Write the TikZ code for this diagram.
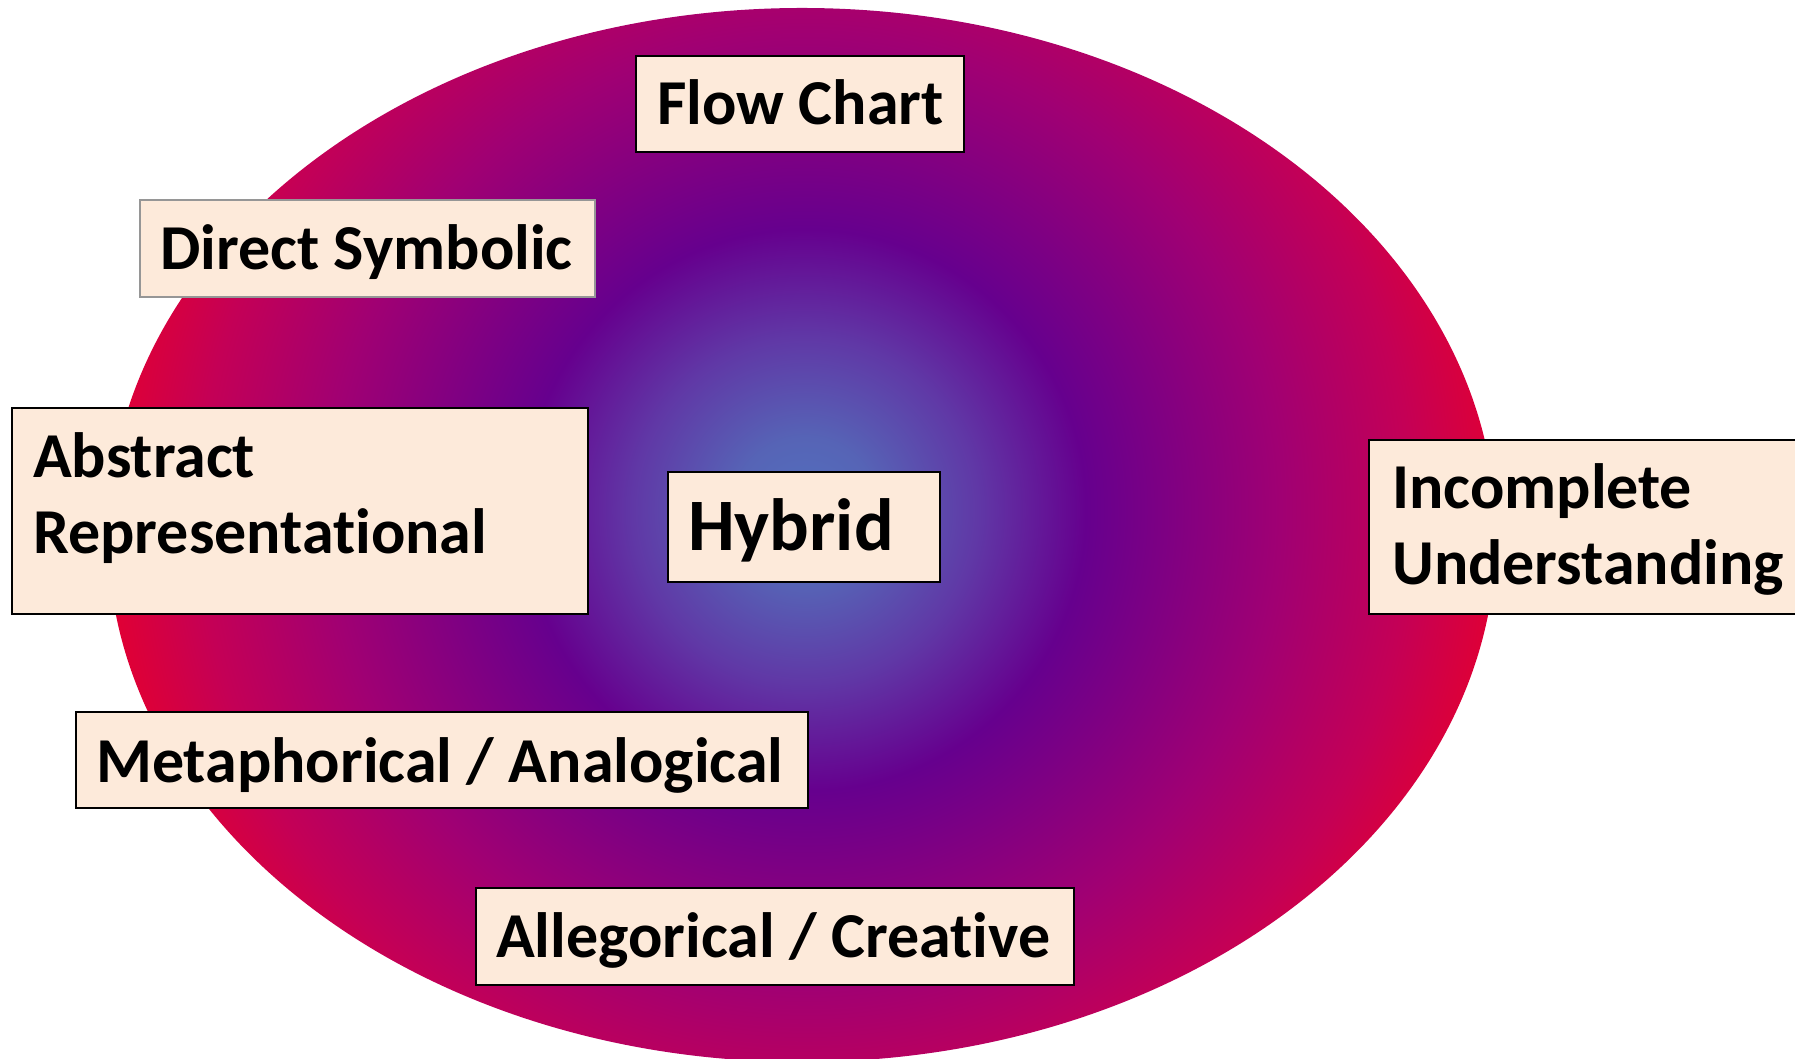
\documentclass[tikz,border=0pt]{standalone}
\usepackage{fontspec}
\setmainfont{Carlito}[Ligatures=NoCommon]
\definecolor{boxfill}{RGB}{253,234,218}
\definecolor{dsborder}{RGB}{150,150,150}
\definecolor{g0}{RGB}{82,112,190}
\definecolor{g1}{RGB}{86,100,182}
\definecolor{g2}{RGB}{96,56,166}
\definecolor{g3}{RGB}{102,0,142}
\definecolor{g4}{RGB}{160,0,115}
\definecolor{g5}{RGB}{196,0,86}
\definecolor{g6}{RGB}{226,0,50}
\pgfdeclareradialshading{blob}{\pgfpoint{0bp}{0bp}}{color(0bp)=(g0); color(2.5bp)=(g1); color(6bp)=(g2); color(9.75bp)=(g3); color(16.5bp)=(g4); color(21bp)=(g5); color(24.5bp)=(g6); color(50bp)=(g6)}
\tikzset{
  box/.style={rectangle, draw=black, line width=2.5pt, fill=boxfill, inner sep=0pt},
  lbl/.style={inner sep=0pt, anchor=base west, align=left, font=\fontsize{64}{76}\selectfont\bfseries},
}
\begin{document}
\begin{tikzpicture}[x=1pt,y=1pt]
\useasboundingbox (0,0) rectangle (1795,1059);
\begin{scope}
  \clip (802,524) ellipse [x radius=694, y radius=527];
  \shade[shading=blob] (805,549) circle (720);
\end{scope}
% Flow Chart
\node[box, minimum width=328, minimum height=96] (fc) at (800,955) {};
\node[lbl] (fct) at (657,934) {Flow Chart};
% Direct Symbolic
\node[box, draw=dsborder, line width=2pt, minimum width=455, minimum height=97] (ds) at (367.5,810.5) {};
\node[lbl] (dst) at (160,789) {Direct Symbolic};
% Abstract Representational
\node[box, minimum width=576, minimum height=206] (ar) at (300,548) {};
\node[lbl] (art) at (33,505) {Abstract\\Representational};
% Hybrid
\node[box, minimum width=272, minimum height=110] (hy) at (804,532) {};
\node[lbl, font=\fontsize{74}{88}\selectfont\bfseries] (hyt) at (688,508) {Hybrid};
% Incomplete Understanding
\node[box, minimum width=436, minimum height=174] (iu) at (1587,532) {};
\node[lbl] (iut) at (1392,474) {Incomplete\\Understanding};
% Metaphorical / Analogical
\node[box, minimum width=732, minimum height=96] (ma) at (442,299) {};
\node[lbl] (mat) at (96,276) {Metaphorical / Analogical};
% Allegorical / Creative
\node[box, minimum width=598, minimum height=97] (ac) at (775,122.5) {};
\node[lbl] (act) at (496,101) {Allegorical / Creative};
\end{tikzpicture}
\end{document}
